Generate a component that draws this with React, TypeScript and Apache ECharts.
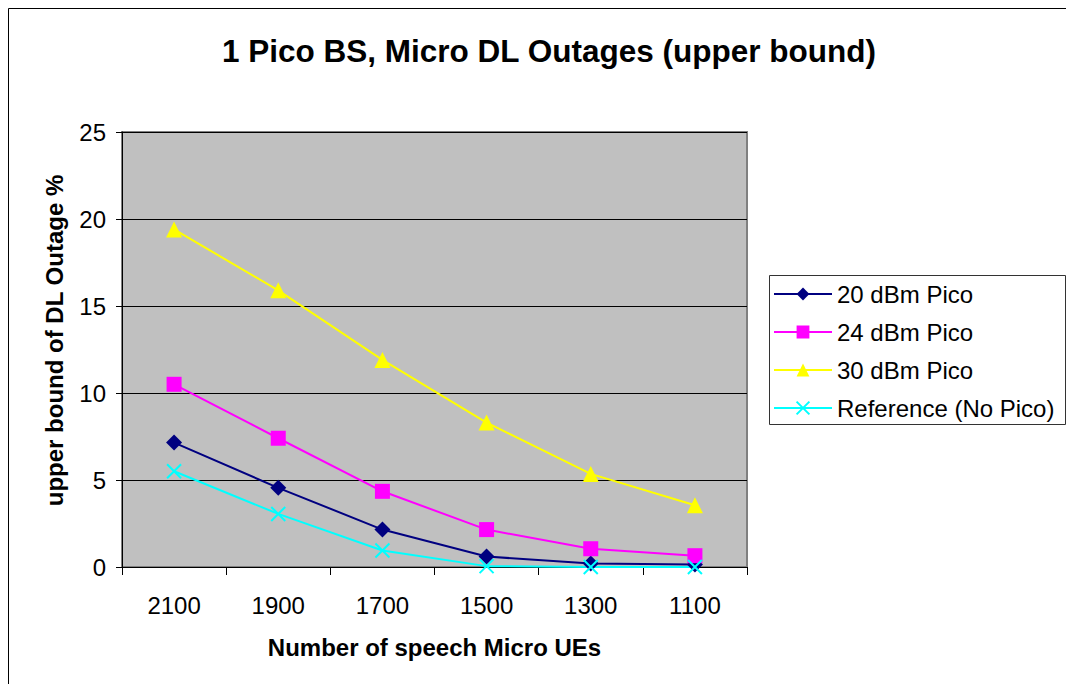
import React, { useEffect, useRef } from "react";
import * as echarts from "echarts";

const categories = ["2100", "1900", "1700", "1500", "1300", "1100"];
const pico20 = [7.15, 4.55, 2.15, 0.6, 0.2, 0.15];
const pico24 = [10.5, 7.4, 4.35, 2.15, 1.05, 0.65];
const pico30 = [19.4, 15.9, 11.9, 8.3, 5.35, 3.55];
const reference = [5.5, 3.05, 0.95, 0.05, 0.0, 0.0];
const seriesNames = ["20 dBm Pico", "24 dBm Pico", "30 dBm Pico", "Reference (No Pico)"];
const yTicks = [0, 5, 10, 15, 20, 25];

const FONT = "Liberation Sans, Arial, sans-serif";

export default function App() {
  const ref = useRef<HTMLDivElement>(null);
  useEffect(() => {
    if (!ref.current) return;
    const chart = echarts.init(ref.current, undefined, { renderer: "svg" });
    const X_PATH = "path://M0,0 L10,10 M10,0 L0,10";
    const mk = (name: string, data: number[], color: string, symbol: string, size: number, extra: any = {}) => ({
      name,
      type: "line",
      data,
      symbol,
      symbolSize: size,
      showSymbol: true,
      lineStyle: { color, width: 2 },
      itemStyle: { color, borderColor: color, borderWidth: 0, ...extra },
      emphasis: { disabled: true },
    });
    chart.setOption({
      animation: false,
      backgroundColor: "#FFFFFF",
      textStyle: { fontFamily: FONT },
      title: {
        text: "1 Pico BS, Micro DL Outages (upper bound)",
        left: 544,
        textAlign: "center",
        top: 30,
        textStyle: { fontFamily: FONT, fontSize: 31.5, fontWeight: "bold", color: "#000" },
      },
      graphic: [
        {
          type: "rect",
          shape: { x: 8.5, y: 8.5, width: 1100, height: 720 },
          style: { fill: "none", stroke: "#000", lineWidth: 1 },
          z: 0,
        },
        {
          type: "rect",
          shape: { x: 769.5, y: 275.5, width: 296, height: 149 },
          style: { fill: "#FFFFFF", stroke: "#333", lineWidth: 1 },
          z: 0,
        },
      ],
      legend: {
        orient: "vertical",
        left: 773,
        top: 282,
        padding: 0,
        itemWidth: 58,
        itemHeight: 16,
        itemGap: 14,
        data: seriesNames,
        textStyle: { fontFamily: FONT, fontSize: 24, color: "#000", lineHeight: 23, padding: [0, 0, 0, 0] },
        selectedMode: false,
      },
      grid: {
        left: 122,
        top: 132,
        width: 625,
        height: 435,
        show: true,
        backgroundColor: "#C0C0C0",
        borderColor: "#808080",
        borderWidth: 2,
      },
      xAxis: {
        type: "category",
        data: categories,
        boundaryGap: true,
        name: "Number of speech Micro UEs",
        nameLocation: "middle",
        nameGap: 68,
        nameTextStyle: { fontFamily: FONT, fontSize: 24, fontWeight: "bold", color: "#000" },
        axisLine: { lineStyle: { color: "#000", width: 1 } },
        axisTick: { show: true, length: 8, alignWithLabel: false, lineStyle: { color: "#000" } },
        axisLabel: { fontFamily: FONT, fontSize: 24, color: "#000", margin: 26 },
        splitLine: { show: false },
      },
      yAxis: {
        type: "value",
        min: yTicks[0],
        max: yTicks[yTicks.length - 1],
        interval: 5,
        name: "upper bound of DL Outage %",
        nameLocation: "middle",
        nameGap: 56,
        nameTextStyle: { fontFamily: FONT, fontSize: 24, fontWeight: "bold", color: "#000", padding: [0, 0, 0, 18] },
        axisLine: { show: true, lineStyle: { color: "#000", width: 1 } },
        axisTick: { show: true, length: 6, lineStyle: { color: "#000" } },
        axisLabel: { fontFamily: FONT, fontSize: 24, color: "#000", margin: 16 },
        splitLine: { show: true, lineStyle: { color: "#000", width: 1 } },
      },
      series: [
        mk(seriesNames[0], pico20, "#000080", "diamond", 16),
        mk(seriesNames[1], pico24, "#FF00FF", "rect", 15),
        mk(seriesNames[2], pico30, "#FFFF00", "triangle", 16),
        mk(seriesNames[3], reference, "#00FFFF", X_PATH, 14, { borderWidth: 2, color: "#00FFFF" }),
      ],
    });
    return () => chart.dispose();
  }, []);
  return (
    <div
      ref={ref}
      style={{ position: "absolute", left: 0, top: 0, width: 1066, height: 684 }}
    />
  );
}
